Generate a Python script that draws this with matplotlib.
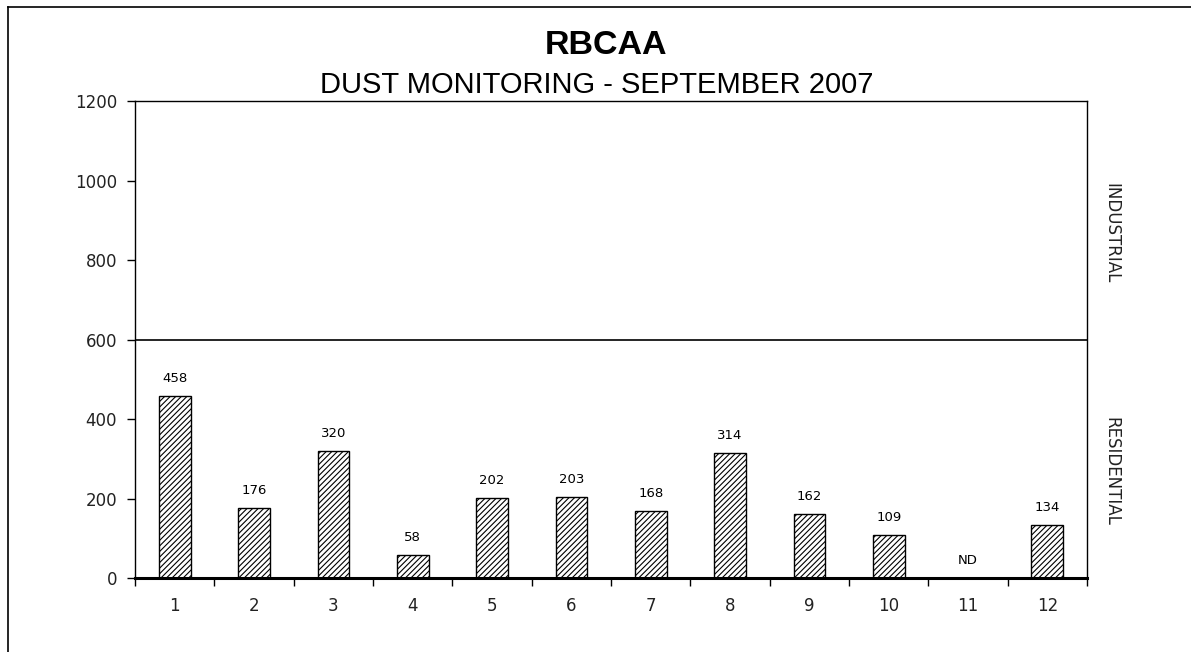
import matplotlib
matplotlib.use("Agg")
import matplotlib.pyplot as plt
from matplotlib.lines import Line2D
import numpy as np

plt.rcParams['font.family'] = ['Liberation Sans', 'DejaVu Sans']
plt.rcParams['hatch.linewidth'] = 0.8

sites = [1, 2, 3, 4, 5, 6, 7, 8, 9, 10, 11, 12]
dust = [458, 176, 320, 58, 202, 203, 168, 314, 162, 109, np.nan, 134]
value_labels = ['458', '176', '320', '58', '202', '203', '168', '314', '162', '109', 'ND', '134']
yticks = [0, 200, 400, 600, 800, 1000, 1200]
threshold = 600
zone_labels = ['INDUSTRIAL', 'RESIDENTIAL']
zone_centers = [868, 269]

tickfont = ['DejaVu Sans']

fig = plt.figure(figsize=(11.91, 6.52), dpi=100)
ax = fig.add_axes([0.1134, 0.1135, 0.9127 - 0.1134, 0.845 - 0.1135])

heights = [0 if np.isnan(v) else v for v in dust]
ax.bar(sites, heights, width=0.4, color='white', edgecolor='black',
       linewidth=1.0, hatch='//////', zorder=2)

for x, h, lab in zip(sites, heights, value_labels):
    ax.annotate(lab, (x, h), xytext=(0, 8), textcoords='offset points',
                ha='center', va='bottom', fontsize=9.5, family=tickfont)

ax.axhline(threshold, color='black', linewidth=1.2, zorder=3)

ax.set_xlim(0.5, 12.5)
ax.set_ylim(0, 1200)
ax.set_yticks(yticks)
ax.set_yticklabels([str(t) for t in yticks], fontsize=12, color='#222222', family=tickfont)
ax.tick_params(axis='y', direction='out', length=6, width=1, pad=7)

ax.set_xticks(np.arange(0.5, 13.0, 1.0))
ax.set_xticklabels([])
ax.tick_params(axis='x', which='major', direction='out', length=6, width=1)
ax.set_xticks(sites, minor=True)
ax.set_xticklabels([str(s) for s in sites], minor=True, fontsize=12, color='#222222', family=tickfont)
ax.tick_params(axis='x', which='minor', length=0, pad=14)

for sp in ['left', 'right', 'top']:
    ax.spines[sp].set_linewidth(1.0)
ax.spines['bottom'].set_linewidth(2.2)

for lab, yc in zip(zone_labels, zone_centers):
    ax.text(1.016, yc, lab, transform=ax.get_yaxis_transform(),
            rotation=270, ha='left', va='center', fontsize=12, color='#222222', family=tickfont)

fig.text(0.509, 0.93, 'RBCAA', ha='center', va='center', fontsize=24.5, fontweight='bold')
fig.text(0.501, 0.869, 'DUST MONITORING - SEPTEMBER 2007', ha='center', va='center', fontsize=21)

fig.add_artist(Line2D([8/1191, 8/1191], [0, 1 - 7/652], color='black', linewidth=1.2,
                      transform=fig.transFigure))
fig.add_artist(Line2D([8/1191, 1], [1 - 7/652, 1 - 7/652], color='black', linewidth=1.2,
                      transform=fig.transFigure))

fig.savefig('out.png', dpi=100)
